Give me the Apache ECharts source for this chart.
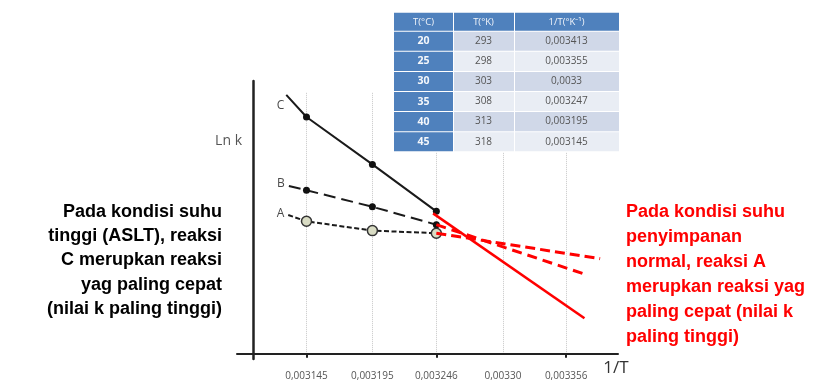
<!DOCTYPE html>
<html>
<head>
<meta charset="utf-8">
<script src="https://cdn.jsdelivr.net/npm/echarts@6/dist/echarts.min.js"></script>
<style>
html,body{margin:0;padding:0;background:#fff;}
#chart{width:840px;height:381px;}
</style>
</head>
<body>
<div id="chart"></div>
<script>
// ---- data ----
const tickLabels = ['0,003145', '0,003195', '0,003246', '0,00330', '0,003356'];
const tickPos = [0.82, 1.83, 2.81, 3.83, 4.80];   // evenly drawn category positions on 1/T axis
const boldTickPos = [0.82, 2.81, 4.80];
const pointX = [0.82, 1.83, 2.81];
const lineNames = ['C', 'B', 'A'];
const startX = [0.51, 0.55, 0.54];
const startY = [26.08, 16.91, 13.98];
const valC = [23.85, 19.08, 14.35];
const valB = [16.48, 14.81, 13.01];
const valA = [13.35, 12.41, 12.15];
const redSolidX = [2.76, 5.08];
const redSolidY = [14.15, 3.58];
const redDashAX = [2.81, 5.32];
const redDashAY = [12.15, 9.58];
const redDashBX = [2.81, 5.06];
const redDashBY = [13.01, 8.08];

const tableHead = ['T(\u00B0C)', 'T(\u00B0K)', '1/T(\u00B0K\u207B\u00B9)'];
const tableTC = ['20', '25', '30', '35', '40', '45'];
const tableTK = ['293', '298', '303', '308', '313', '318'];
const tableInv = ['0,003413', '0,003355', '0,0033', '0,003247', '0,003195', '0,003145'];

const leftText = ['Pada kondisi suhu', 'tinggi (ASLT), reaksi', 'C merupkan reaksi', 'yag paling cepat', '(nilai k paling tinggi)'];
const rightText = ['Pada kondisi suhu', 'penyimpanan', 'normal, reaksi A', 'merupkan reaksi yag', 'paling cepat (nilai k', 'paling tinggi)'];

// ---- build ----
const labelOffsets = [[2, 11], [0, -2], [0, -1]];
function seriesData(idx, xs, ys) {
  const d = [{ value: [startX[idx], startY[idx]], symbolSize: 0,
    label: { show: true, formatter: lineNames[idx], position: 'left', distance: 4,
      offset: labelOffsets[idx], color: '#4a4a4a', fontSize: 12, fontFamily: 'Open Sans' } }];
  for (let i = 0; i < xs.length; i++) d.push([xs[i], ys[i]]);
  return d;
}
function pairs(xs, ys) { return xs.map((x, i) => [x, ys[i]]); }

// table graphic
const tx = [394, 453, 514, 619];
const headTop = 12.7, headH = 19, rowH = 20.1;
const tableEls = [];
const blue = '#4f81bd';
const TZ = 200;
tableEls.push({ type: 'rect', z: TZ, shape: { x: tx[0], y: headTop, width: tx[3] - tx[0], height: headH + rowH * 6 }, style: { fill: '#ffffff' } });
for (let c = 0; c < 3; c++) {
  tableEls.push({ type: 'rect', z: TZ + 1, shape: { x: tx[c] + (c ? 1 : 0), y: headTop, width: tx[c + 1] - tx[c] - (c ? 1 : 0), height: headH - 1 }, style: { fill: blue } });
  tableEls.push({ type: 'text', z: TZ + 2, style: { text: tableHead[c], x: (tx[c] + tx[c + 1]) / 2, y: headTop + headH / 2, align: 'center', verticalAlign: 'middle', fill: '#f2f5fa', fontSize: 9.5, fontFamily: 'Open Sans' } });
}
const cols = [tableTC, tableTK, tableInv];
for (let r = 0; r < 6; r++) {
  const y0 = headTop + headH + r * rowH;
  for (let c = 0; c < 3; c++) {
    const fill = c === 0 ? blue : (r % 2 === 0 ? '#d0d8e8' : '#e9edf4');
    tableEls.push({ type: 'rect', z: TZ + 1, shape: { x: tx[c] + (c ? 1 : 0), y: y0, width: tx[c + 1] - tx[c] - (c ? 1 : 0), height: rowH - 1 }, style: { fill: fill } });
    tableEls.push({ type: 'text', z: TZ + 2, style: { text: cols[c][r], x: (tx[c] + tx[c + 1]) / 2, y: y0 + rowH / 2 - 0.5, align: 'center', verticalAlign: 'middle',
      fill: c === 0 ? '#f4f7fb' : '#555555', fontSize: c === 0 ? 10.5 : 10, fontWeight: c === 0 ? 'bold' : 'normal', fontFamily: 'Open Sans' } });
  }
}

const gridLines = tickPos.map(x => [{ coord: [x, 0] }, { coord: [x, 26.4] }]);

const chart = echarts.init(document.getElementById('chart'), null, { renderer: 'canvas' });
chart.setOption({
  animation: false,
  backgroundColor: '#ffffff',
  grid: { left: 237, right: 222, top: 81, bottom: 20 },
  xAxis: {
    type: 'value', min: -0.245, max: 5.594,
    axisLine: { onZero: true, lineStyle: { color: '#222', width: 2 } },
    splitLine: { show: false },
    axisTick: { show: true, customValues: boldTickPos, length: 4, lineStyle: { color: '#222', width: 2 } },
    axisLabel: {
      show: true, customValues: tickPos, margin: 12, fontSize: 10, color: '#555', fontFamily: 'Open Sans',
      formatter: function (v) {
        let best = 0, bd = 1e9;
        tickPos.forEach((p, i) => { const d = Math.abs(p - v); if (d < bd) { bd = d; best = i; } });
        return tickLabels[best];
      }
    },
    name: '1/T', nameLocation: 'end', nameGap: -2,
    nameTextStyle: { align: 'center', verticalAlign: 'top', padding: [6, 0, 0, 0], fontSize: 17, color: '#333', fontFamily: 'Open Sans' }
  },
  yAxis: {
    type: 'value', min: -0.52, max: 27.48,
    axisLine: { show: true, onZero: true, lineStyle: { color: '#222', width: 2.5 } },
    axisTick: { show: false }, axisLabel: { show: false }, splitLine: { show: false },
    name: 'Ln k', nameLocation: 'end', nameGap: -60,
    nameTextStyle: { align: 'right', verticalAlign: 'middle', padding: [0, 11, 0, 0], fontSize: 14, color: '#555', fontFamily: 'Open Sans' }
  },
  series: [
    { type: 'line', data: [], silent: true, z: 0, zlevel: 0,
      markLine: { silent: true, symbol: 'none', label: { show: false }, z: 0,
        lineStyle: { type: 'dotted', color: '#c8c8c8', width: 1 }, data: gridLines } },
    { type: 'line', name: 'C', data: seriesData(0, pointX, valC), z: 3,
      symbol: 'circle', symbolSize: 7, itemStyle: { color: '#111' },
      lineStyle: { color: '#1a1a1a', width: 2 } },
    { type: 'line', name: 'B', data: seriesData(1, pointX, valB), z: 3,
      symbol: 'circle', symbolSize: 7, itemStyle: { color: '#111' },
      lineStyle: { color: '#1a1a1a', width: 2, type: [12, 6] } },
    { type: 'line', name: 'A', data: seriesData(2, pointX, valA), z: 3,
      symbol: 'circle', symbolSize: 10, itemStyle: { color: '#d9dcc4', borderColor: '#333', borderWidth: 1.5 },
      lineStyle: { color: '#1a1a1a', width: 2, type: [5, 2.5] } },
    { type: 'line', data: pairs(redSolidX, redSolidY), symbol: 'none', lineStyle: { color: '#ff0000', width: 2.5 }, z: 5 },
    { type: 'line', data: pairs(redDashAX, redDashAY), symbol: 'none', lineStyle: { color: '#ff0000', width: 3, type: [10, 5] }, z: 5 },
    { type: 'line', data: pairs(redDashBX, redDashBY), symbol: 'none', lineStyle: { color: '#ff0000', width: 3, type: [10, 6] }, z: 5 }
  ],
  graphic: [
    { type: 'group', z: TZ, children: tableEls },
    { type: 'text', z: 100, style: { text: leftText.join('\n'), x: 222, y: 199.5, align: 'right', verticalAlign: 'top',
      lineHeight: 24.3, fontSize: 18, fontWeight: 'bold', fill: '#000', fontFamily: 'Liberation Sans' } },
    { type: 'text', z: 100, style: { text: rightText.join('\n'), x: 626, y: 199.2, align: 'left', verticalAlign: 'top',
      lineHeight: 25, fontSize: 18, fontWeight: 'bold', fill: '#ff0000', fontFamily: 'Liberation Sans' } }
  ]
});
</script>
</body>
</html>
